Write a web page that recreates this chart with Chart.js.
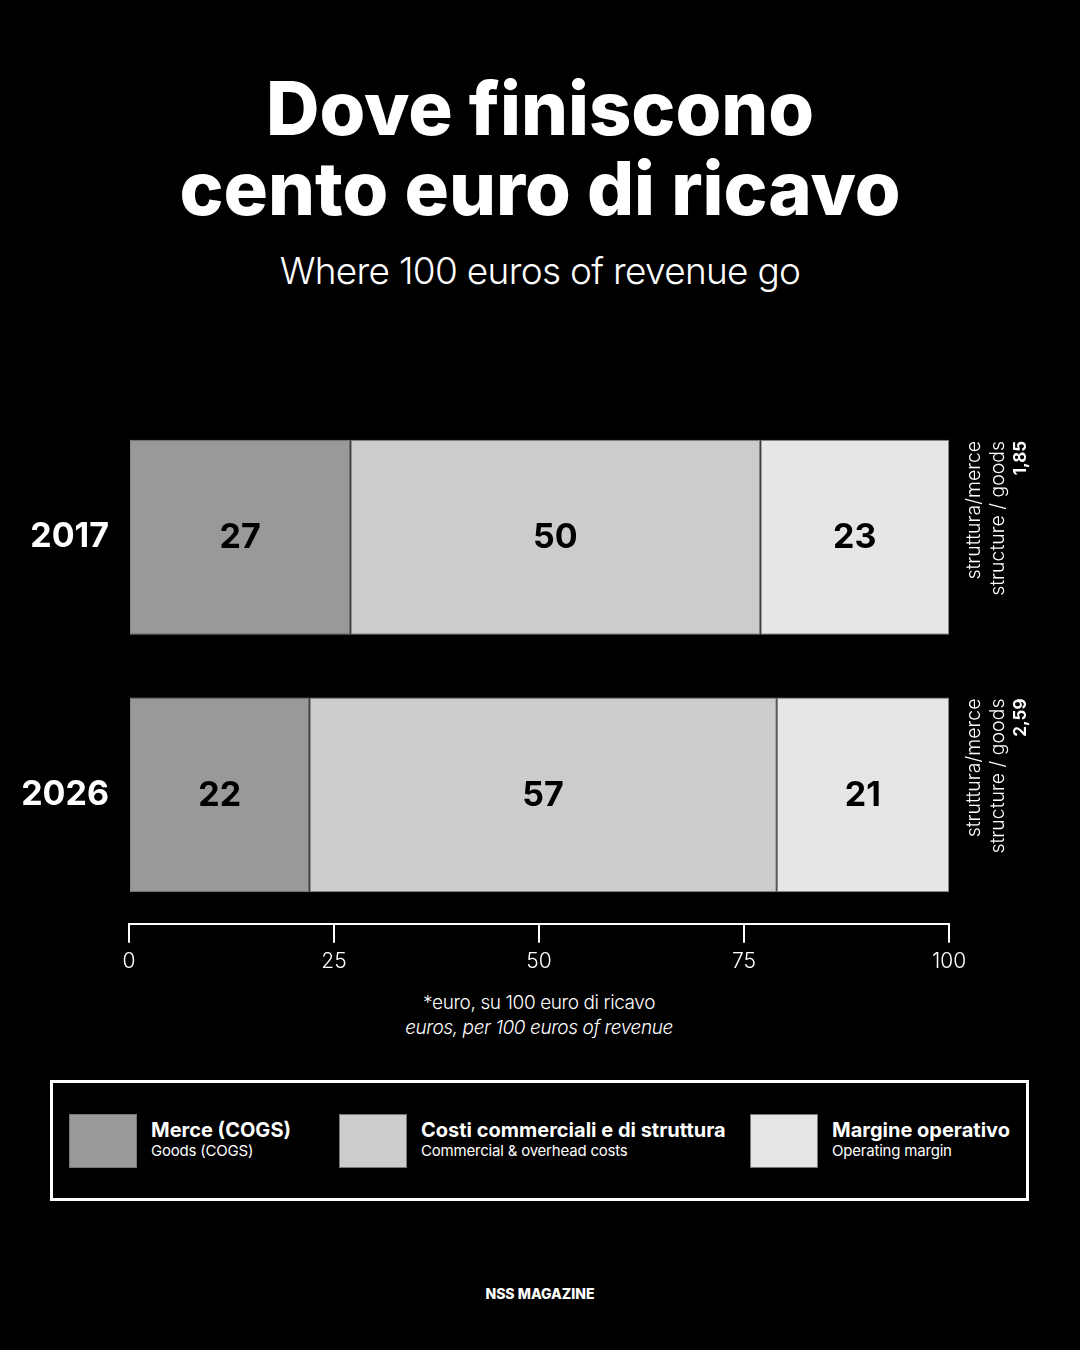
<!DOCTYPE html>
<html>
<head>
<meta charset="utf-8">
<script src="https://cdn.jsdelivr.net/npm/chart.js@4"></script>
<style>
  html, body { margin: 0; padding: 0; background: #000; }
  body { width: 1080px; height: 1350px; position: relative; overflow: hidden; font-family: Inter, "Noto Sans", sans-serif; color: #fff; }
  .title { position: absolute; left: 0; width: 1080px; top: 68px; text-align: center; font-weight: 800; font-size: 74px; line-height: 80px; letter-spacing: 0px; }
  .subtitle { position: absolute; left: 0; width: 1080px; top: 248px; text-align: center; font-weight: 300; font-size: 37px; letter-spacing: -0.7px; }
  #chartWrap { position: absolute; left: 0; top: 368px; width: 1080px; height: 612px; }
  .note { position: absolute; left: 0; width: 1078px; text-align: center; font-weight: 300; font-size: 19px; letter-spacing: -0.4px; }
  .legend { position: absolute; left: 50px; top: 1080px; width: 973px; height: 115px; border: 3px solid #fff; }
  .item { position: absolute; top: 31px; }
  .sw { position: absolute; left: 0; top: 0; width: 66px; height: 52px; border: 1px solid #777; }
  .lt { position: absolute; left: 82px; top: 4px; white-space: nowrap; }
  .lt b { display: block; font-size: 20px; font-weight: 700; letter-spacing: 0px; line-height: 24px; }
  .lt span { display: block; font-size: 15px; font-weight: 400; letter-spacing: -0.2px; line-height: 18px; }
  .logo { position: absolute; left: 0; width: 1080px; top: 1285px; text-align: center; font-weight: 800; font-size: 14px; letter-spacing: 0px; }
</style>
</head>
<body>
<div class="title">Dove finiscono<br>cento euro di ricavo</div>
<div class="subtitle">Where 100 euros of revenue go</div>
<div id="chartWrap"><canvas id="costChart"></canvas></div>
<div class="note" style="top:991px">*euro, su 100 euro di ricavo</div>
<div class="note" style="top:1016px;font-style:italic">euros, per 100 euros of revenue</div>
<div class="legend" id="legend"></div>
<div class="logo">NSS MAGAZINE</div>

<script>
var years = ['2017', '2026'];
var seriesIt = ['Merce (COGS)', 'Costi commerciali e di struttura', 'Margine operativo'];
var seriesEn = ['Goods (COGS)', 'Commercial & overhead costs', 'Operating margin'];
var goods = [27, 22];
var overhead = [50, 57];
var margin = [23, 21];
var ratios = ['1,85', '2,59'];
var colors = ['#999999', '#cccccc', '#e6e6e6'];
var tickValues = [0, 25, 50, 75, 100];

// legend built from the series names
var legendLeft = [16, 286, 697];
var legend = document.getElementById('legend');
seriesIt.forEach(function (name, i) {
    var el = document.createElement('div');
    el.className = 'item';
    el.style.left = legendLeft[i] + 'px';
    el.innerHTML = '<div class="sw" style="background:' + colors[i] + '"></div>' +
        '<div class="lt"><b>' + name + '</b><span>' + seriesEn[i] + '</span></div>';
    legend.appendChild(el);
});

// values inside the bars + ratio notes on the right
var barLabels = {
    id: 'barLabels',
    afterDatasetsDraw: function (chart) {
        var ctx = chart.ctx;
        ctx.save();
        ctx.fillStyle = '#000';
        ctx.font = '700 34px Inter';
        ctx.textAlign = 'center';
        ctx.textBaseline = 'middle';
        chart.data.datasets.forEach(function (ds, di) {
            chart.getDatasetMeta(di).data.forEach(function (bar, i) {
                var cx = (bar.x + bar.base) / 2;
                ctx.fillText(ds.data[i], cx, bar.y + 1);
            });
        });

        var meta = chart.getDatasetMeta(0);
        var right = chart.chartArea.right;
        meta.data.forEach(function (bar, i) {
            var top = bar.y - bar.height / 2 + 1;
            ctx.save();
            ctx.translate(right + 31, top);
            ctx.rotate(-Math.PI / 2);
            ctx.textAlign = 'right';
            ctx.textBaseline = 'alphabetic';
            ctx.fillStyle = '#fff';
            ctx.font = '300 19.5px Inter';
            ctx.fillText('struttura/merce', 0, 0);
            ctx.fillText('structure / goods', 0, 24);
            ctx.font = '700 17px Inter';
            ctx.fillText(ratios[i], 0, 46);
            ctx.restore();
        });
        ctx.restore();
    }
};

var ctx1 = document.getElementById('costChart').getContext('2d');

var costChart = new Chart(ctx1, {
    type: 'bar',
    data: {
        labels: years,
        datasets: [
            { label: seriesIt[0], data: goods, backgroundColor: colors[0] },
            { label: seriesIt[1], data: overhead, backgroundColor: colors[1] },
            { label: seriesIt[2], data: margin, backgroundColor: colors[2] }
        ]
    },
    options: {
        indexAxis: 'y',
        responsive: true,
        maintainAspectRatio: false,
        animation: false,
        layout: { padding: { left: 0, right: 131, top: 0, bottom: 0 } },
        datasets: {
            bar: {
                barPercentage: 1,
                categoryPercentage: 0.756,
                borderColor: '#888888',
                borderWidth: 1,
                borderSkipped: false
            }
        },
        plugins: {
            legend: { display: false },
            tooltip: { enabled: false }
        },
        scales: {
            x: {
                stacked: true,
                min: 0,
                max: 100,
                afterBuildTicks: function (scale) {
                    scale.ticks = tickValues.map(function (v) { return { value: v }; });
                },
                grid: {
                    drawOnChartArea: false,
                    drawTicks: true,
                    tickLength: 19,
                    color: '#ffffff',
                    lineWidth: 2
                },
                border: { display: true, color: '#ffffff', width: 2 },
                ticks: {
                    color: '#ffffff',
                    padding: 6,
                    maxRotation: 0,
                    font: { family: 'Inter', size: 21, weight: '300' }
                }
            },
            y: {
                stacked: true,
                afterFit: function (scale) { scale.width = 129; },
                grid: { display: false, drawTicks: false },
                border: { display: false },
                ticks: {
                    color: '#ffffff',
                    padding: 20,
                    font: { family: 'Inter', size: 34, weight: '700' }
                }
            }
        }
    },
    plugins: [barLabels]
});
</script>
</body>
</html>
